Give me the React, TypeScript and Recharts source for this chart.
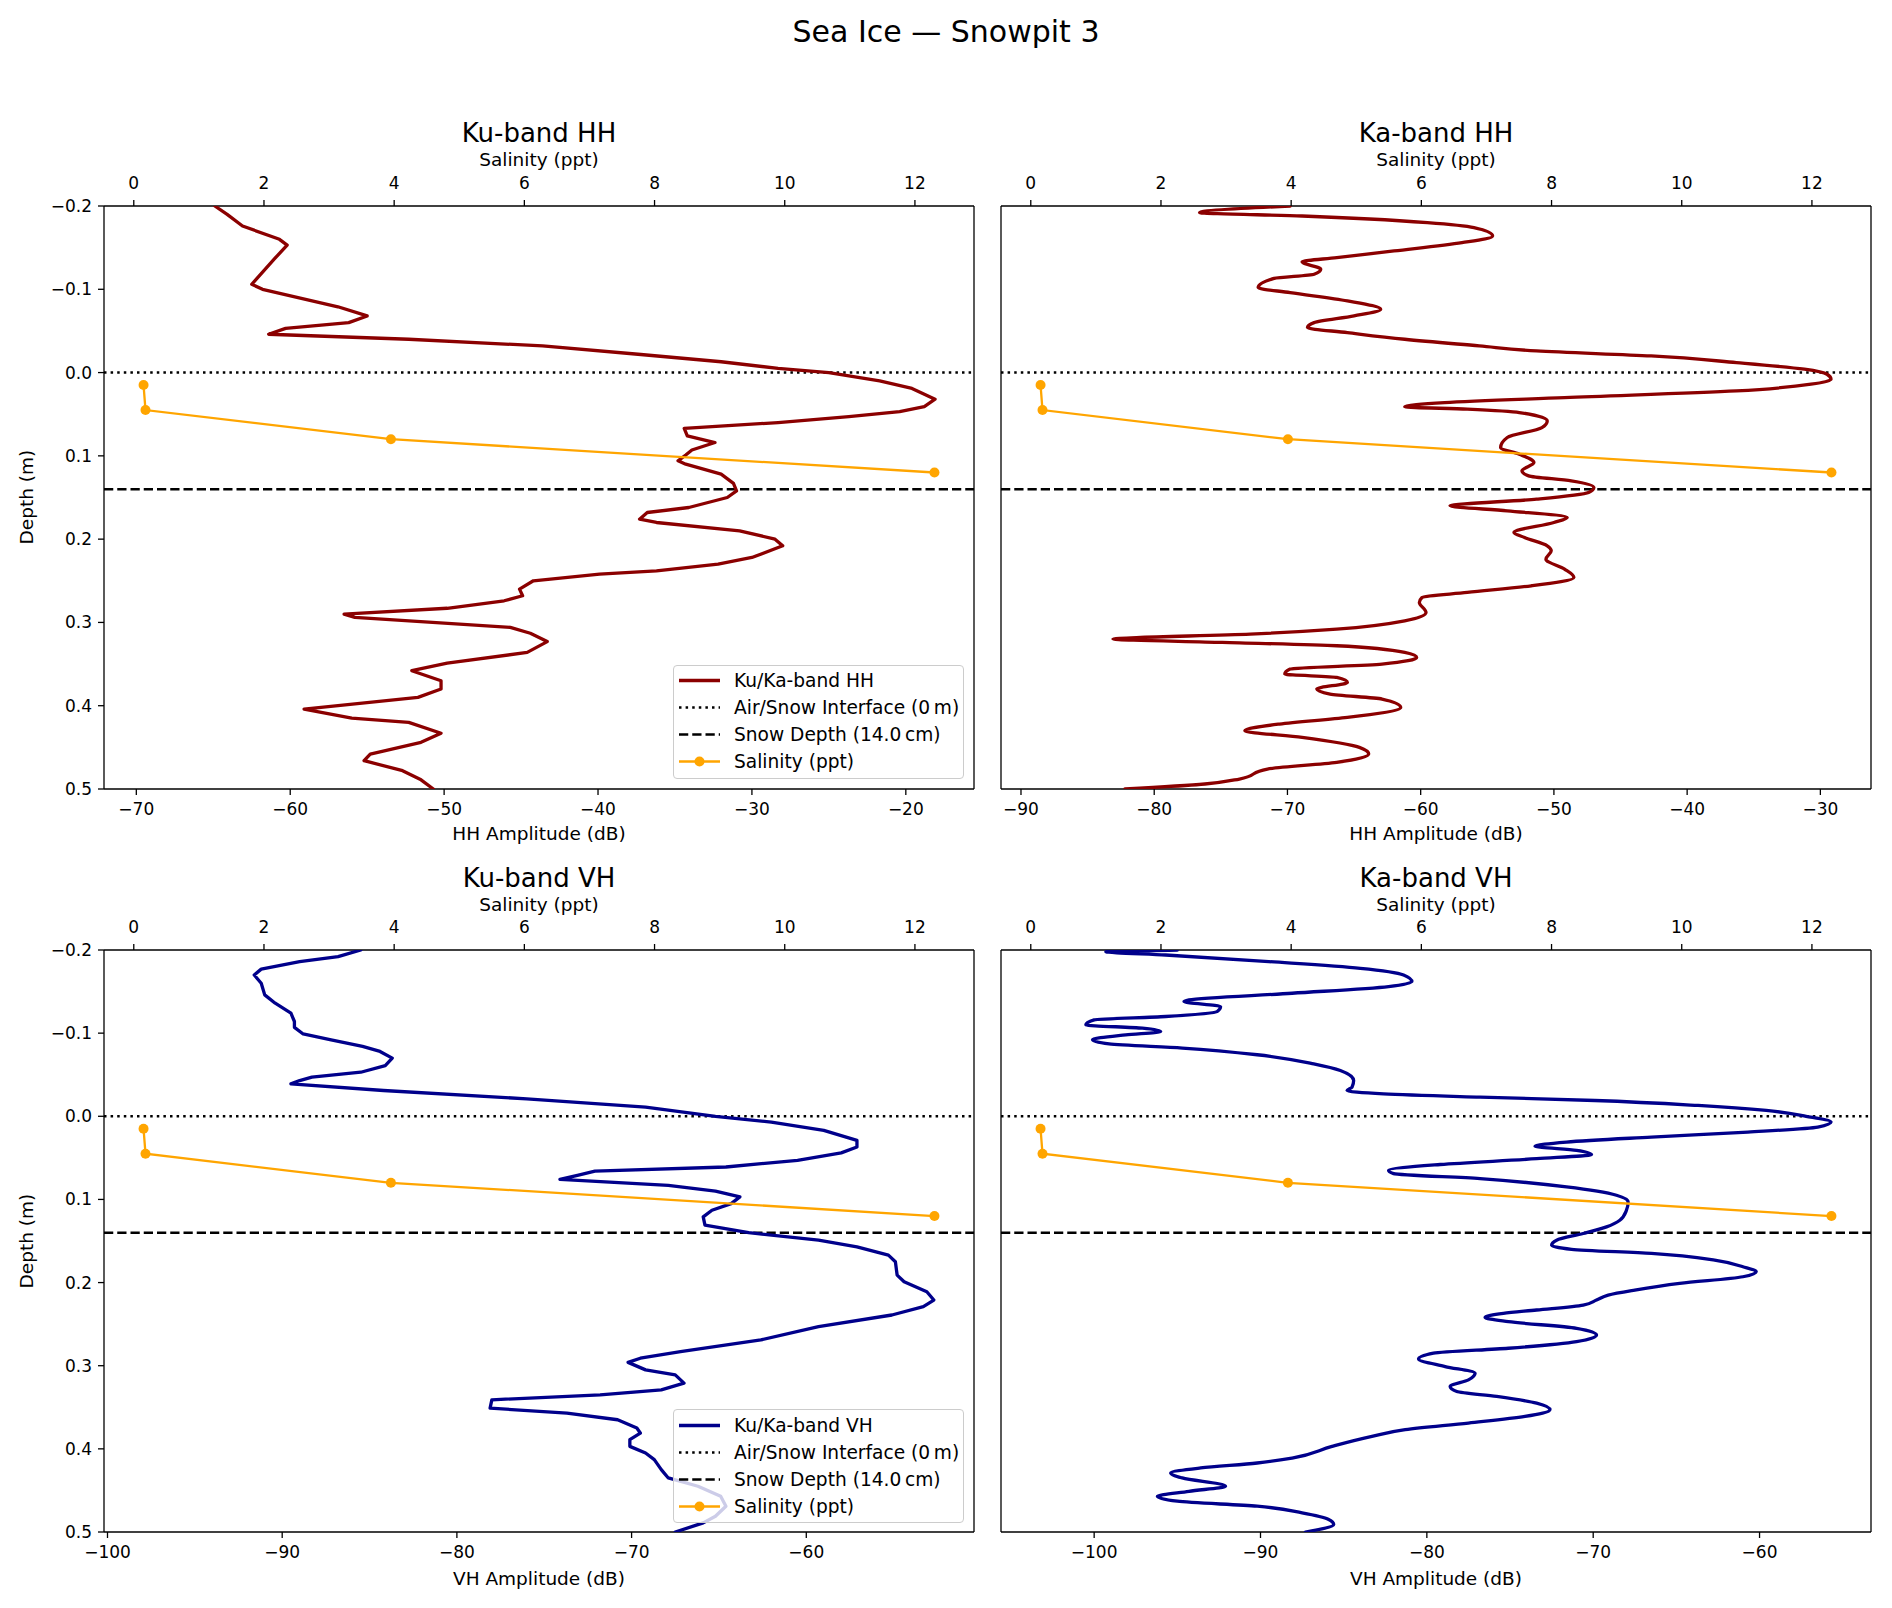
import React from 'react';
import { ScatterChart, Scatter, XAxis, YAxis, ReferenceLine, Legend } from 'recharts';

const FONT = '"DejaVu Sans", "Liberation Sans", sans-serif';

// ---------- data (depth m, amplitude dB) ----------
const kuHH: [number, number][] = [
  [-0.2, -64.9], [-0.19, -64.1], [-0.176, -63.1], [-0.16, -60.7], [-0.153, -60.2], [-0.137, -61.0],
  [-0.106, -62.5], [-0.1, -61.8], [-0.079, -56.9], [-0.068, -55.0], [-0.06, -56.2], [-0.053, -60.3],
  [-0.046, -61.4], [-0.04, -52.3], [-0.032, -43.6], [-0.022, -37.4], [-0.013, -32.0], [-0.005, -28.3],
  [0.0, -25.0], [0.01, -21.7], [0.019, -19.6], [0.032, -18.1], [0.041, -18.8], [0.047, -20.4],
  [0.053, -23.7], [0.06, -28.3], [0.067, -34.4], [0.076, -34.2], [0.084, -32.4], [0.093, -33.9],
  [0.099, -34.3], [0.106, -34.8], [0.11, -34.3], [0.122, -32.0], [0.133, -31.2], [0.142, -31.0],
  [0.15, -31.6], [0.162, -34.1], [0.168, -36.8], [0.176, -37.3], [0.18, -36.2], [0.19, -30.8],
  [0.2, -28.5], [0.208, -28.0], [0.222, -30.0], [0.23, -32.2], [0.238, -36.2], [0.242, -39.9],
  [0.25, -44.2], [0.26, -45.1], [0.268, -44.9], [0.274, -46.1], [0.283, -49.8], [0.29, -56.5],
  [0.294, -55.8], [0.306, -45.7], [0.313, -44.4], [0.323, -43.3], [0.336, -44.6], [0.349, -49.8],
  [0.358, -52.1], [0.37, -50.2], [0.38, -50.2], [0.39, -51.7], [0.404, -59.1], [0.415, -56.0],
  [0.42, -52.3], [0.433, -50.2], [0.444, -51.5], [0.458, -54.8], [0.466, -55.2], [0.478, -52.7],
  [0.489, -51.5], [0.5, -50.7],
];

const kaHH: [number, number][] = [
  [-0.2, -69.8], [-0.192, -76.6], [-0.188, -68.9], [-0.18, -59.5], [-0.174, -56.0], [-0.164, -54.6],
  [-0.156, -56.9], [-0.146, -62.0], [-0.138, -66.3], [-0.133, -68.9], [-0.124, -67.5], [-0.118, -68.0],
  [-0.113, -71.0], [-0.102, -72.2], [-0.096, -69.8], [-0.086, -65.5], [-0.076, -63.0], [-0.068, -65.0],
  [-0.06, -68.0], [-0.054, -68.5], [-0.048, -65.5], [-0.04, -61.2], [-0.032, -55.6], [-0.026, -51.3],
  [-0.02, -42.7], [-0.012, -36.3], [-0.004, -31.2], [0.002, -29.5], [0.008, -29.2], [0.014, -30.7],
  [0.022, -36.3], [0.03, -49.2], [0.036, -58.2], [0.041, -61.2], [0.044, -56.5], [0.048, -52.6],
  [0.058, -50.5], [0.066, -50.9], [0.078, -53.5], [0.09, -54.0], [0.098, -52.6], [0.108, -51.5],
  [0.118, -52.4], [0.124, -51.9], [0.13, -48.7], [0.138, -47.0], [0.144, -47.4], [0.152, -51.3],
  [0.16, -57.8], [0.166, -53.5], [0.174, -49.0], [0.18, -50.0], [0.192, -53.0], [0.198, -52.2],
  [0.208, -50.5], [0.214, -50.2], [0.224, -50.6], [0.236, -49.2], [0.246, -48.5], [0.256, -51.7],
  [0.264, -56.5], [0.27, -59.9], [0.276, -60.1], [0.288, -59.6], [0.298, -61.2], [0.308, -66.3],
  [0.314, -72.8], [0.32, -83.1], [0.324, -74.9], [0.328, -66.3], [0.336, -61.2], [0.342, -60.3],
  [0.35, -62.9], [0.356, -69.8], [0.362, -70.2], [0.366, -66.3], [0.372, -65.5], [0.38, -67.8],
  [0.386, -66.8], [0.392, -62.9], [0.402, -61.5], [0.414, -65.5], [0.422, -70.6], [0.43, -73.2],
  [0.438, -68.9], [0.45, -64.6], [0.458, -63.9], [0.468, -66.3], [0.476, -71.5], [0.488, -73.6],
  [0.494, -76.2], [0.5, -82.2],
];

const kuVH: [number, number][] = [
  [-0.2, -85.5], [-0.192, -86.8], [-0.186, -89.0], [-0.177, -91.2], [-0.17, -91.6], [-0.16, -91.2],
  [-0.146, -91.0], [-0.136, -90.4], [-0.124, -89.5], [-0.114, -89.3], [-0.107, -89.3], [-0.099, -88.8],
  [-0.092, -87.2], [-0.084, -85.4], [-0.078, -84.4], [-0.07, -83.7], [-0.061, -84.1], [-0.053, -85.5],
  [-0.047, -88.3], [-0.043, -89.0], [-0.039, -89.5], [-0.031, -84.2], [-0.021, -76.0], [-0.011, -69.2],
  [0.0, -65.2], [0.007, -62.0], [0.017, -59.0], [0.029, -57.1], [0.037, -57.1], [0.044, -58.0],
  [0.053, -60.5], [0.061, -64.6], [0.066, -72.1], [0.071, -73.1], [0.076, -74.1], [0.083, -67.9],
  [0.09, -65.2], [0.097, -63.8], [0.105, -64.3], [0.113, -65.4], [0.121, -65.9], [0.131, -65.8],
  [0.14, -63.3], [0.149, -59.3], [0.157, -57.1], [0.167, -55.3], [0.175, -54.9], [0.191, -54.8],
  [0.199, -54.4], [0.211, -53.1], [0.221, -52.7], [0.229, -53.3], [0.239, -55.1], [0.253, -59.3],
  [0.269, -62.6], [0.283, -67.2], [0.291, -69.5], [0.296, -70.2], [0.305, -69.2], [0.311, -67.5],
  [0.321, -67.0], [0.329, -68.3], [0.335, -71.8], [0.341, -78.0], [0.351, -78.1], [0.357, -73.7],
  [0.365, -70.8], [0.375, -69.7], [0.381, -69.5], [0.389, -70.1], [0.397, -70.1], [0.405, -69.2],
  [0.413, -68.7], [0.425, -68.3], [0.435, -67.9], [0.445, -66.2], [0.457, -64.9], [0.469, -64.6],
  [0.481, -65.2], [0.489, -65.9], [0.5, -67.5],
];

const kaVH: [number, number][] = [
  [-0.2, -95.0], [-0.198, -99.3], [-0.194, -95.7], [-0.186, -89.5], [-0.178, -84.0], [-0.17, -81.4],
  [-0.162, -80.9], [-0.156, -82.3], [-0.148, -88.1], [-0.14, -94.3], [-0.138, -94.6], [-0.132, -92.4],
  [-0.126, -92.6], [-0.12, -95.7], [-0.116, -100.0], [-0.11, -100.5], [-0.106, -97.1], [-0.102, -96.0],
  [-0.098, -98.1], [-0.092, -100.1], [-0.087, -99.1], [-0.082, -94.7], [-0.074, -90.2], [-0.063, -86.8],
  [-0.055, -85.2], [-0.043, -84.4], [-0.035, -84.5], [-0.031, -84.8], [-0.027, -82.6], [-0.023, -76.8],
  [-0.019, -69.9], [-0.013, -63.7], [-0.007, -59.6], [0.0, -57.2], [0.007, -55.7], [0.013, -56.5],
  [0.019, -60.7], [0.025, -66.5], [0.031, -71.6], [0.036, -73.5], [0.041, -71.0], [0.046, -70.1],
  [0.051, -73.4], [0.058, -79.2], [0.065, -82.3], [0.069, -82.0], [0.075, -76.8], [0.085, -71.6],
  [0.095, -68.6], [0.103, -67.9], [0.113, -68.0], [0.125, -68.4], [0.133, -69.2], [0.141, -70.6],
  [0.149, -72.2], [0.155, -72.5], [0.16, -71.3], [0.165, -66.5], [0.173, -62.7], [0.181, -61.0],
  [0.187, -60.2], [0.193, -61.0], [0.201, -64.8], [0.209, -67.5], [0.215, -69.1], [0.221, -69.8],
  [0.227, -70.6], [0.233, -73.4], [0.237, -75.4], [0.242, -76.5], [0.247, -75.1], [0.255, -71.0],
  [0.263, -69.8], [0.271, -71.0], [0.279, -75.1], [0.285, -79.6], [0.292, -80.5], [0.301, -78.9],
  [0.309, -77.1], [0.317, -77.5], [0.325, -78.6], [0.331, -78.2], [0.337, -75.8], [0.345, -73.4],
  [0.353, -72.6], [0.361, -74.1], [0.369, -77.5], [0.377, -81.3], [0.385, -83.3], [0.397, -85.7],
  [0.411, -88.1], [0.417, -90.2], [0.423, -93.6], [0.429, -95.4], [0.435, -94.7], [0.445, -92.1],
  [0.451, -94.3], [0.457, -96.2], [0.463, -95.0], [0.469, -90.2], [0.477, -87.5], [0.485, -85.9],
  [0.491, -85.6], [0.5, -87.3],
];

const salinityDepth = [0.015, 0.045, 0.08, 0.12];
const salinityValue = [0.15, 0.18, 3.95, 12.3];

const depthTicks = [-0.2, -0.1, 0.0, 0.1, 0.2, 0.3, 0.4, 0.5];
const salinityTicks = [0, 2, 4, 6, 8, 10, 12];
const kuHHTicks = [-70, -60, -50, -40, -30, -20];
const kaHHTicks = [-90, -80, -70, -60, -50, -40, -30];
const kuVHTicks = [-100, -90, -80, -70, -60];
const kaVHTicks = [-100, -90, -80, -70, -60];

const snowDepth = 0.14;
const airSnow = 0.0;

// ---------- styling ----------
const HH_COLOR = '#8B0000';
const VH_COLOR = '#00008B';
const SAL_COLOR = '#FFA500';
const AX = { stroke: '#000', strokeWidth: 1.3 };
const TICK_FS = 17;
const LABEL_FS = 18.5;
const LEGEND_FS = 18.6;
const DOT_DASH = '2.5 4.1';
const DASH_DASH = '9.25 4';

const fmt = (v: number, d = 0) => v.toFixed(d).replace('-', '\u2212');

const NoDot = () => <g />;
const SalDot = (p: any) => <circle cx={p.cx} cy={p.cy} r={5} fill={SAL_COLOR} />;

const LW = 100;
const TH = 50;
const BH = 50;
const RW = 4;

function LegendBox({ label, color }: { label: string; color: string }) {
  const rows = [
    { kind: 'solid', text: label },
    { kind: 'dot', text: 'Air/Snow Interface (0\u2009m)' },
    { kind: 'dash', text: 'Snow Depth (14.0\u2009cm)' },
    { kind: 'sal', text: 'Salinity (ppt)' },
  ];
  return (
    <div
      style={{
        boxSizing: 'border-box',
        width: 291,
        height: 114,
        background: 'rgba(255,255,255,0.8)',
        border: '1.3px solid #cccccc',
        borderRadius: 4,
        paddingTop: 1.5,
        fontFamily: FONT,
        fontSize: LEGEND_FS,
        color: '#000',
      }}
    >
      {rows.map((r) => (
        <div key={r.kind} style={{ height: 27, display: 'flex', alignItems: 'center' }}>
          <svg width={60} height={27} style={{ flex: '0 0 auto' }}>
            {r.kind === 'solid' && <line x1={5} x2={46} y1={13.5} y2={13.5} stroke={color} strokeWidth={3.3} />}
            {r.kind === 'dot' && (
              <line x1={5} x2={46} y1={13.5} y2={13.5} stroke="#000" strokeWidth={2.5} strokeDasharray={DOT_DASH} />
            )}
            {r.kind === 'dash' && (
              <line x1={5} x2={46} y1={13.5} y2={13.5} stroke="#000" strokeWidth={2.5} strokeDasharray={DASH_DASH} />
            )}
            {r.kind === 'sal' && (
              <g>
                <line x1={5} x2={46} y1={13.5} y2={13.5} stroke={SAL_COLOR} strokeWidth={2.3} />
                <circle cx={25.5} cy={13.5} r={5} fill={SAL_COLOR} />
              </g>
            )}
          </svg>
          <span style={{ whiteSpace: 'nowrap', lineHeight: '27px' }}>{r.text}</span>
        </div>
      ))}
    </div>
  );
}

type PanelProps = {
  x0: number;
  y0: number;
  w: number;
  h: number;
  series: [number, number][];
  color: string;
  ampDomain: [number, number];
  ampTicks: number[];
  showDepthLabels: boolean;
  curve: 'linear' | 'monotoneY';
  legendLabel?: string;
};

function Panel({ x0, y0, w, h, series, color, ampDomain, ampTicks, showDepthLabels, curve, legendLabel }: PanelProps) {
  const data = series.map(([d, a]) => ({ depth: d, amp: a }));
  const sal = salinityDepth.map((d, i) => ({ depth: d, sal: salinityValue[i] }));
  const tickStyle = { fill: '#000', fontSize: TICK_FS, fontFamily: FONT };
  return (
    <div style={{ position: 'absolute', left: x0 - LW, top: y0 - TH }}>
      <ScatterChart
        width={w + LW + RW}
        height={h + TH + BH}
        margin={{ top: 0, right: 0, bottom: 0, left: 0 }}
      >
        <XAxis
          xAxisId="amp"
          type="number"
          dataKey="amp"
          orientation="bottom"
          domain={ampDomain}
          ticks={ampTicks}
          allowDataOverflow
          interval={0}
          height={BH}
          tickFormatter={(v: number) => fmt(v)}
          tick={tickStyle}
          tickLine={AX}
          axisLine={AX}
          tickSize={6}
          tickMargin={8}
        />
        <XAxis
          xAxisId="sal"
          type="number"
          dataKey="sal"
          orientation="top"
          domain={[-0.4575, 12.9075]}
          ticks={salinityTicks}
          allowDataOverflow
          interval={0}
          height={TH}
          tickFormatter={(v: number) => fmt(v)}
          tick={tickStyle}
          tickLine={AX}
          axisLine={AX}
          tickSize={6}
          tickMargin={11}
        />
        <YAxis
          yAxisId="d"
          type="number"
          dataKey="depth"
          orientation="left"
          domain={[-0.2, 0.5]}
          reversed
          allowDataOverflow
          ticks={depthTicks}
          interval={0}
          width={LW}
          tickFormatter={(v: number) => fmt(v, 1)}
          tick={showDepthLabels ? tickStyle : false}
          tickLine={AX}
          axisLine={AX}
          tickSize={6}
          tickMargin={6}
        />
        <YAxis
          yAxisId="r"
          type="number"
          dataKey="depth"
          orientation="right"
          domain={[-0.2, 0.5]}
          reversed
          allowDataOverflow
          width={RW}
          tick={false}
          tickLine={false}
          axisLine={AX}
        />
        <Scatter
          name="profile"
          xAxisId="amp"
          yAxisId="d"
          data={data}
          line={{ stroke: color, strokeWidth: 3.3, strokeLinejoin: 'round', strokeLinecap: 'round' } as any}
          lineType="joint"
          lineJointType={curve}
          shape={NoDot as any}
          isAnimationActive={false}
          legendType="none"
        />
        <ReferenceLine
          xAxisId="amp"
          yAxisId="d"
          y={airSnow}
          stroke="#000"
          strokeWidth={2.5}
          strokeDasharray={DOT_DASH}
        />
        <ReferenceLine
          xAxisId="amp"
          yAxisId="d"
          y={snowDepth}
          stroke="#000"
          strokeWidth={2.5}
          strokeDasharray={DASH_DASH}
        />
        <Scatter
          name="salinity"
          xAxisId="sal"
          yAxisId="d"
          data={sal}
          fill={SAL_COLOR}
          line={{ stroke: SAL_COLOR, strokeWidth: 2.3 } as any}
          lineType="joint"
          lineJointType="linear"
          shape={SalDot as any}
          isAnimationActive={false}
          legendType="none"
        />
        {legendLabel && (
          <Legend
            layout="vertical"
            align="center"
            verticalAlign="middle"
            wrapperStyle={{ left: 673 - (x0 - LW), top: 459 + TH, width: 291, height: 114 }}
            content={() => <LegendBox label={legendLabel} color={color} />}
          />
        )}
      </ScatterChart>
    </div>
  );
}

function Txt({ text, cx, baseline, fs }: { text: string; cx: number; baseline: number; fs: number }) {
  return (
    <div
      style={{
        position: 'absolute',
        left: cx - 400,
        width: 800,
        top: baseline - 0.946 * fs,
        textAlign: 'center',
        fontFamily: FONT,
        fontSize: fs,
        lineHeight: 1.2,
        color: '#000',
        whiteSpace: 'nowrap',
      }}
    >
      {text}
    </div>
  );
}

function VTxt({ text, cx, cy, fs }: { text: string; cx: number; cy: number; fs: number }) {
  const W = 300;
  const H = fs * 1.2;
  return (
    <div
      style={{
        position: 'absolute',
        left: cx - W / 2,
        top: cy - H / 2,
        width: W,
        height: H,
        textAlign: 'center',
        fontFamily: FONT,
        fontSize: fs,
        lineHeight: 1.2,
        color: '#000',
        transform: 'rotate(-90deg)',
        whiteSpace: 'nowrap',
      }}
    >
      {text}
    </div>
  );
}

export default function App() {
  const W = 870;
  const H = 583;
  const L1 = 104;
  const L2 = 1001;
  const T1 = 205.5;
  const T2 = 950;
  const dy = T2 - T1;
  const c1 = L1 + W / 2;
  const c2 = L2 + W / 2;
  return (
    <div
      style={{
        position: 'absolute',
        left: 0,
        top: 0,
        width: 1892,
        height: 1608,
        background: '#fff',
        fontFamily: FONT,
        overflow: 'hidden',
      }}
    >
      <Txt text="Sea Ice — Snowpit 3" cx={946} baseline={42} fs={30} />

      <Txt text="Ku-band HH" cx={c1} baseline={142.7} fs={26} />
      <Txt text="Ka-band HH" cx={c2} baseline={142.7} fs={26} />
      <Txt text="Ku-band VH" cx={c1} baseline={142.7 + dy} fs={26} />
      <Txt text="Ka-band VH" cx={c2} baseline={142.7 + dy} fs={26} />

      <Txt text="Salinity (ppt)" cx={c1} baseline={166.7} fs={LABEL_FS} />
      <Txt text="Salinity (ppt)" cx={c2} baseline={166.7} fs={LABEL_FS} />
      <Txt text="Salinity (ppt)" cx={c1} baseline={166.7 + dy} fs={LABEL_FS} />
      <Txt text="Salinity (ppt)" cx={c2} baseline={166.7 + dy} fs={LABEL_FS} />

      <Txt text="HH Amplitude (dB)" cx={c1} baseline={841} fs={LABEL_FS} />
      <Txt text="HH Amplitude (dB)" cx={c2} baseline={841} fs={LABEL_FS} />
      <Txt text="VH Amplitude (dB)" cx={c1} baseline={841 + dy} fs={LABEL_FS} />
      <Txt text="VH Amplitude (dB)" cx={c2} baseline={841 + dy} fs={LABEL_FS} />

      <VTxt text="Depth (m)" cx={26.6} cy={T1 + H / 2} fs={LABEL_FS} />
      <VTxt text="Depth (m)" cx={26.6} cy={T2 + H / 2} fs={LABEL_FS} />

      <Panel x0={L1} y0={T1} w={W} h={H} series={kuHH} color={HH_COLOR} ampDomain={[-72.1, -15.57]} ampTicks={kuHHTicks} showDepthLabels curve="linear" legendLabel="Ku/Ka-band HH" />
      <Panel x0={L2} y0={T1} w={W} h={H} series={kaHH} color={HH_COLOR} ampDomain={[-91.5, -26.2]} ampTicks={kaHHTicks} showDepthLabels={false} curve="monotoneY" />
      <Panel x0={L1} y0={T2} w={W} h={H - 1} series={kuVH} color={VH_COLOR} ampDomain={[-100.2, -50.4]} ampTicks={kuVHTicks} showDepthLabels curve="linear" legendLabel="Ku/Ka-band VH" />
      <Panel x0={L2} y0={T2} w={W} h={H - 1} series={kaVH} color={VH_COLOR} ampDomain={[-105.6, -53.3]} ampTicks={kaVHTicks} showDepthLabels={false} curve="monotoneY" />
    </div>
  );
}
